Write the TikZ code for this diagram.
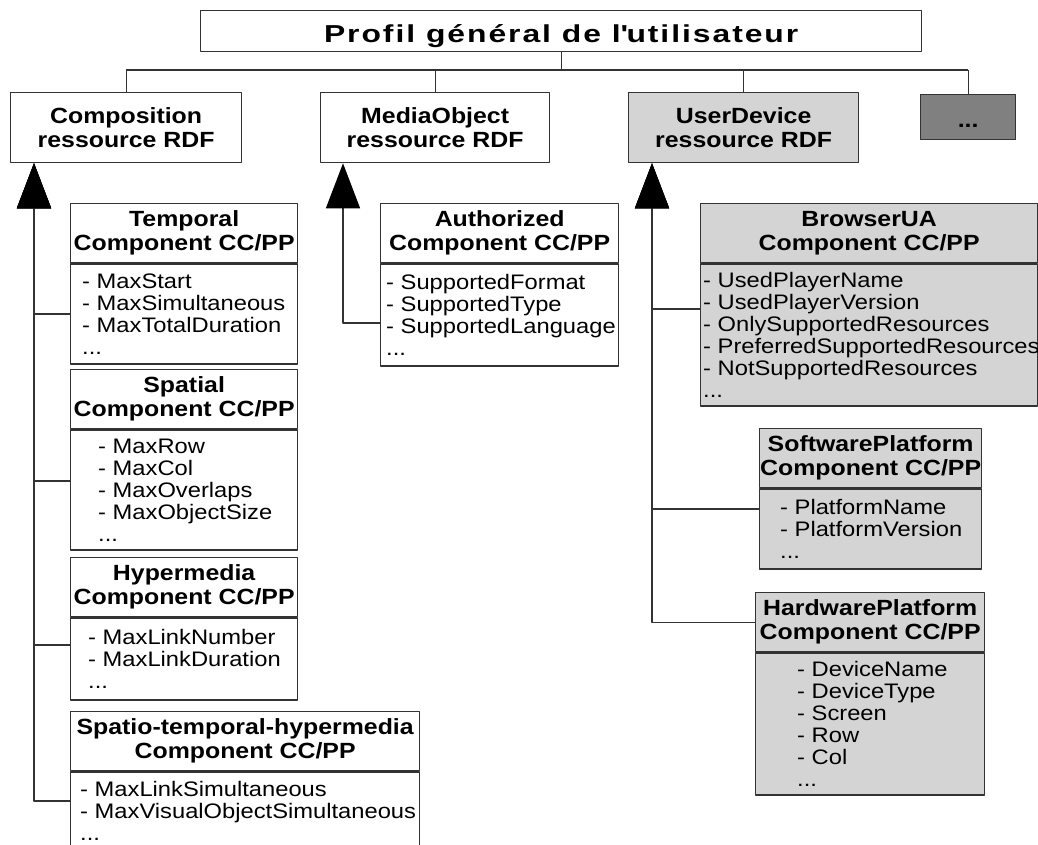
\documentclass[tikz,border=0pt]{standalone}
\usepackage{fontspec}
\setmainfont{Liberation Sans}[FakeStretch=1.13]
\newfontfamily\titrefont{Liberation Sans}[FakeStretch=1.3,LetterSpace=8]
\usetikzlibrary{arrows.meta,calc,positioning}
\definecolor{grisclair}{gray}{0.83}
\definecolor{grisfonce}{gray}{0.5}

\begin{document}
\begin{tikzpicture}[
    x=1pt, y=-1pt,
    line join=round,
    trait/.style={draw=black!80, line width=1.3pt},
    fleche/.style={-{Triangle[length=45pt,width=34pt,color=black]}},
    ressource/.style={trait, anchor=north west, minimum height=70pt, inner sep=0pt,
        align=center, font=\fontsize{22}{24}\selectfont\bfseries},
    entete/.style={trait, anchor=north west, minimum height=59pt, inner sep=0pt,
        align=center, font=\fontsize{22}{24}\selectfont\bfseries},
    corps/.style={trait, anchor=north west, inner sep=0pt},
    liste/.style={anchor=west, inner sep=0pt, align=left,
        font=\fontsize{21}{22}\selectfont}
]
    \useasboundingbox (0,0) rectangle (1038,845);

    % 组件框：名称、颜色、x、y、宽度、主体高度、标题、缩进、属性
    \def\composant#1#2#3#4#5#6#7#8#9{%
        \node[entete, fill=#2, minimum width=#5] (#1) at (#3,#4) {#7};
        \node[corps, fill=#2, minimum width=#5, minimum height=#6] (#1-b) at (#1.south west) {};
        \node[liste] (#1-t) at ([xshift=#8]#1-b.west) {#9};
    }

    % 顶层
    \node[trait, anchor=north west, minimum width=721pt, minimum height=41pt, inner sep=0pt,
        text height=23pt, text depth=0pt, font=\fontsize{24.5}{27}\titrefont\bfseries]
        (profil) at (200,10) {Profil général de l\textquotesingle utilisateur};

    % 资源
    \node[ressource, fill=white, minimum width=231pt] (compo) at (10,92) {Composition\\ressource RDF};
    \node[ressource, fill=white, minimum width=229pt] (media) at (320,92) {MediaObject\\ressource RDF};
    \node[ressource, fill=grisclair, minimum width=230pt] (udev) at (628,92) {UserDevice\\ressource RDF};
    \node[ressource, fill=grisfonce, minimum width=95pt, minimum height=45pt,
        text height=20pt, text depth=0pt] (autres) at (920,94) {...};

    % 总线
    \coordinate (bus) at (0,70);
    \draw[trait] (profil.south) -- (profil.south |- bus);
    \draw[trait] (compo.north |- bus) -- (autres.north |- bus);
    \foreach \n in {compo,media,udev,autres}
        \draw[trait] (\n.north) -- (\n.north |- bus);

    % Composition 的组件
    \composant{temporal}{white}{70}{203}{227}{100}{Temporal\\Component CC/PP}{12}
        {- MaxStart\\- MaxSimultaneous\\- MaxTotalDuration\\...}
    \composant{spatial}{white}{70}{369}{227}{120}{Spatial\\Component CC/PP}{28}
        {- MaxRow\\- MaxCol\\- MaxOverlaps\\- MaxObjectSize\\...}
    \composant{hyper}{white}{70}{557}{227}{82}{Hypermedia\\Component CC/PP}{18}
        {- MaxLinkNumber\\- MaxLinkDuration\\...}
    \composant{spatio}{white}{70}{711}{349}{78}{Spatio-temporal-hypermedia\\Component CC/PP}{10}
        {- MaxLinkSimultaneous\\- MaxVisualObjectSimultaneous\\...}

    % MediaObject 的组件
    \composant{autor}{white}{380}{203}{238}{102}{Authorized\\Component CC/PP}{6}
        {- SupportedFormat\\- SupportedType\\- SupportedLanguage\\...}

    % UserDevice 的组件
    \composant{browser}{grisclair}{700}{203}{337}{142}{BrowserUA\\Component CC/PP}{3}
        {- UsedPlayerName\\- UsedPlayerVersion\\- OnlySupportedResources\\- PreferredSupportedResources\\- NotSupportedResources\\...}
    \composant{soft}{grisclair}{759}{428}{222}{80}{SoftwarePlatform\\Component CC/PP}{21}
        {- PlatformName\\- PlatformVersion\\...}
    \composant{hard}{grisclair}{755}{592}{229}{142}{HardwarePlatform\\Component CC/PP}{42}
        {- DeviceName\\- DeviceType\\- Screen\\- Row\\- Col\\...}

    % 继承箭头
    \coordinate (compoA) at ([xshift=24pt]compo.south west);
    \coordinate (mediaA) at ([xshift=23pt]media.south west);
    \coordinate (udevA) at ([xshift=24pt]udev.south west);
    \foreach \a/\d in {temporal-b.west/0, spatial-b.west/9, hyper-b.west/14, spatio-b.west/10}
        \draw[trait, fleche] ([yshift=\d pt]\a) -| (compoA);
    \draw[trait, fleche] ([yshift=-8pt]autor-b.west) -| (mediaA);
    \foreach \a/\d in {browser-b.west/26, soft-b.west/20, hard.west/0}
        \draw[trait, fleche] ([yshift=\d pt]\a) -| (udevA);

\end{tikzpicture}
\end{document}
